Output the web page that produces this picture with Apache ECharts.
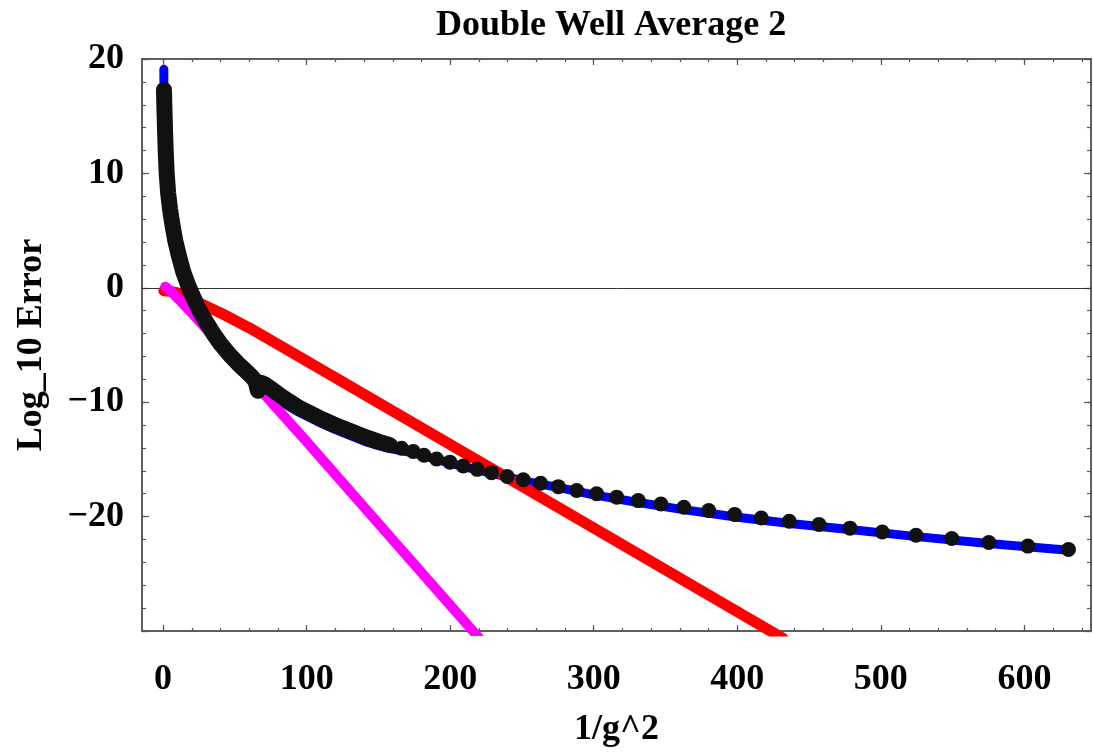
<!DOCTYPE html>
<html>
<head>
<meta charset="utf-8">
<script src="https://cdn.jsdelivr.net/npm/echarts@6/dist/echarts.min.js"></script>
<style>html,body{margin:0;padding:0;background:#fff}#c{width:1093px;height:753px}</style>
</head>
<body>
<div id="c"></div>
<script>
// ---- data ----
const blueX = [0.5, 0.6, 0.9, 1.3, 1.8, 2.5, 3.5, 4.8, 6.5, 8.5, 11, 14, 17.5, 21, 25, 30, 35, 40, 46, 52, 58, 64, 70, 76, 82, 88, 95, 103, 111, 120, 130, 140, 150, 160, 175, 190, 210, 230, 250, 275, 300, 330, 360, 400, 440, 480, 525, 575, 631];
const blueY = [19.1, 17.3, 15.8, 14.0, 12.0, 10.0, 8.3, 6.9, 5.5, 4.1, 2.8, 1.4, 0.2, -0.8, -1.9, -3.0, -4.1, -5.2, -6.2, -7.0, -7.7, -8.4, -8.9, -9.4, -9.9, -10.4, -10.9, -11.4, -11.9, -12.4, -12.9, -13.4, -13.8, -14.1, -14.45, -15.0, -15.65, -16.25, -16.85, -17.45, -18.1, -18.75, -19.35, -20.05, -20.65, -21.15, -21.75, -22.35, -22.95];

const blackDenseX = [0.6, 0.9, 1.3, 1.8, 2.5, 3.5, 4.8, 6.5, 8.5, 11, 14, 17.5, 21, 25, 30, 35, 40, 46, 52, 58, 62, 64.5, 66, 68, 71, 76, 82, 88, 95, 103, 111, 120, 128, 135, 142, 150, 158];
const blackDenseY = [17.3, 15.8, 14.0, 12.0, 10.0, 8.3, 6.9, 5.5, 4.1, 2.8, 1.4, 0.2, -0.8, -1.9, -3.0, -4.0, -4.9, -5.8, -6.6, -7.3, -7.8, -8.2, -9.0, -8.3, -8.45, -8.9, -9.45, -9.95, -10.5, -11.0, -11.5, -12.0, -12.4, -12.75, -13.1, -13.45, -13.75];

const blackDotX = [166.1, 174.2, 181.7, 190.5, 199.8, 209.1, 218.8, 228.8, 239.7, 250.9, 263.0, 275.3, 288.1, 302.0, 316.0, 331.0, 346.8, 362.8, 380.1, 398.2, 416.7, 436.2, 456.9, 478.5, 501.0, 524.5, 549.4, 575.2, 602.4, 630.7];
const blackDotY = [-14.02, -14.30, -14.64, -14.96, -15.24, -15.58, -15.87, -16.16, -16.50, -16.78, -17.09, -17.38, -17.72, -18.0, -18.3, -18.6, -18.9, -19.18, -19.47, -19.81, -20.12, -20.41, -20.69, -21.01, -21.35, -21.63, -21.92, -22.26, -22.58, -22.87];

const redX = [0.5, 5, 10, 15, 20, 30, 40, 60, 100, 200, 300, 432];
const redY = [-0.25, -0.3, -0.45, -0.7, -1.0, -1.6, -2.2, -3.5, -6.4, -13.7, -21.0, -30.65];

const magentaX = [1.5, 5, 10, 20, 40, 64, 100, 150, 220];
const magentaY = [0.1, -0.25, -0.9, -2.2, -5.0, -8.4, -13.45, -20.6, -30.6];

const xMajorTicks = [0, 100, 200, 300, 400, 500, 600];
const xMinorTicks = [0, 20, 40, 60, 80, 100, 120, 140, 160, 180, 200, 220, 240, 260, 280, 300, 320, 340, 360, 380, 400, 420, 440, 460, 480, 500, 520, 540, 560, 580, 600, 620, 640];
const yMajorTicks = [-30, -20, -10, 0, 10, 20];
const yLabelValues = [-20, -10, 0, 10, 20];
const yMinorTicks = [-30, -28, -26, -24, -22, -20, -18, -16, -14, -12, -10, -8, -6, -4, -2, 0, 2, 4, 6, 8, 10, 12, 14, 16, 18, 20];

const titleText = 'Double Well Average 2';
const xName = '1/g^2';
const yName = 'Log_10 Error';

// ---- chart ----
const zip = (xs, ys) => xs.map((x, i) => [x, ys[i]]);
const FONT = 'Liberation Serif';
const frameColor = '#555';
const XMIN = -14.7, XMAX = 646.4, YMIN = -30, YMAX = 20;

function xAxisDef(pos, ticks, len, withLabel) {
  return {
    type: 'value', position: pos, min: XMIN, max: XMAX,
    axisLine: { show: true, onZero: false, lineStyle: { color: frameColor, width: 1.5 } },
    axisTick: { show: true, inside: true, length: len, customValues: ticks, lineStyle: { color: frameColor, width: 1.2 } },
    axisLabel: withLabel ? { show: true, customValues: xMajorTicks, margin: 31, fontFamily: FONT, fontWeight: 'bold', fontSize: 36, color: '#000' } : { show: false },
    splitLine: { show: false },
    name: withLabel ? xName : '', nameLocation: 'middle', nameGap: 81,
    nameTextStyle: { fontFamily: FONT, fontWeight: 'bold', fontSize: 36, color: '#000' }
  };
}
function yAxisDef(pos, ticks, len, withLabel) {
  return {
    type: 'value', position: pos, min: YMIN, max: YMAX,
    axisLine: { show: true, onZero: false, lineStyle: { color: frameColor, width: 1.5 } },
    axisTick: { show: true, inside: true, length: len, customValues: ticks, lineStyle: { color: frameColor, width: 1.2 } },
    axisLabel: withLabel ? { show: true, customValues: yLabelValues, margin: 18, fontFamily: FONT, fontWeight: 'bold', fontSize: 36, color: '#000',
      formatter: v => String(v).replace('-', '\u2212') } : { show: false },
    splitLine: { show: false },
    name: withLabel ? yName : '', nameLocation: 'middle', nameRotate: 90, nameGap: 92,
    nameTextStyle: { fontFamily: FONT, fontWeight: 'bold', fontSize: 36, color: '#000' }
  };
}

const chart = echarts.init(document.getElementById('c'), null, { renderer: 'canvas' });
chart.setOption({
  animation: false,
  backgroundColor: '#fff',
  title: { text: titleText, left: 431, top: 3, textStyle: { fontFamily: FONT, fontWeight: 'bold', fontSize: 36, color: '#000' } },
  grid: { left: 142, right: 2, top: 59, bottom: 108, containLabel: false },
  xAxis: [
    xAxisDef('bottom', xMajorTicks, 6, true),
    xAxisDef('bottom', xMinorTicks, 3, false),
    xAxisDef('top', xMajorTicks, 6, false),
    xAxisDef('top', xMinorTicks, 3, false)
  ],
  yAxis: [
    yAxisDef('left', yMajorTicks, 7, true),
    yAxisDef('left', yMinorTicks, 4, false),
    yAxisDef('right', yMajorTicks, 7, false),
    yAxisDef('right', yMinorTicks, 4, false)
  ],
  series: [
    { type: 'line', data: zip(blueX, blueY), showSymbol: false, symbol: 'none', z: 2,
      lineStyle: { color: '#0000ff', width: 9, cap: 'round', join: 'round' },
      markLine: { silent: true, symbol: 'none', label: { show: false }, lineStyle: { color: '#333', width: 1, type: 'solid' }, data: [{ yAxis: 0 }], z: 1 } },
    { type: 'line', data: zip(redX, redY), showSymbol: false, symbol: 'none', z: 3,
      lineStyle: { color: '#ff0000', width: 11, cap: 'round', join: 'round' } },
    { type: 'line', data: zip(magentaX, magentaY), showSymbol: false, symbol: 'none', z: 4,
      lineStyle: { color: '#ff00ff', width: 10, cap: 'round', join: 'round' } },
    { type: 'line', data: zip(blackDenseX, blackDenseY), showSymbol: false, symbol: 'none', z: 5, smooth: false,
      lineStyle: { color: '#111', width: 16, cap: 'round', join: 'round' } },
    { type: 'scatter', data: zip(blackDotX, blackDotY), symbol: 'circle', symbolSize: 15, z: 6,
      itemStyle: { color: '#111', opacity: 1 } }
  ]
});
</script>
</body>
</html>
